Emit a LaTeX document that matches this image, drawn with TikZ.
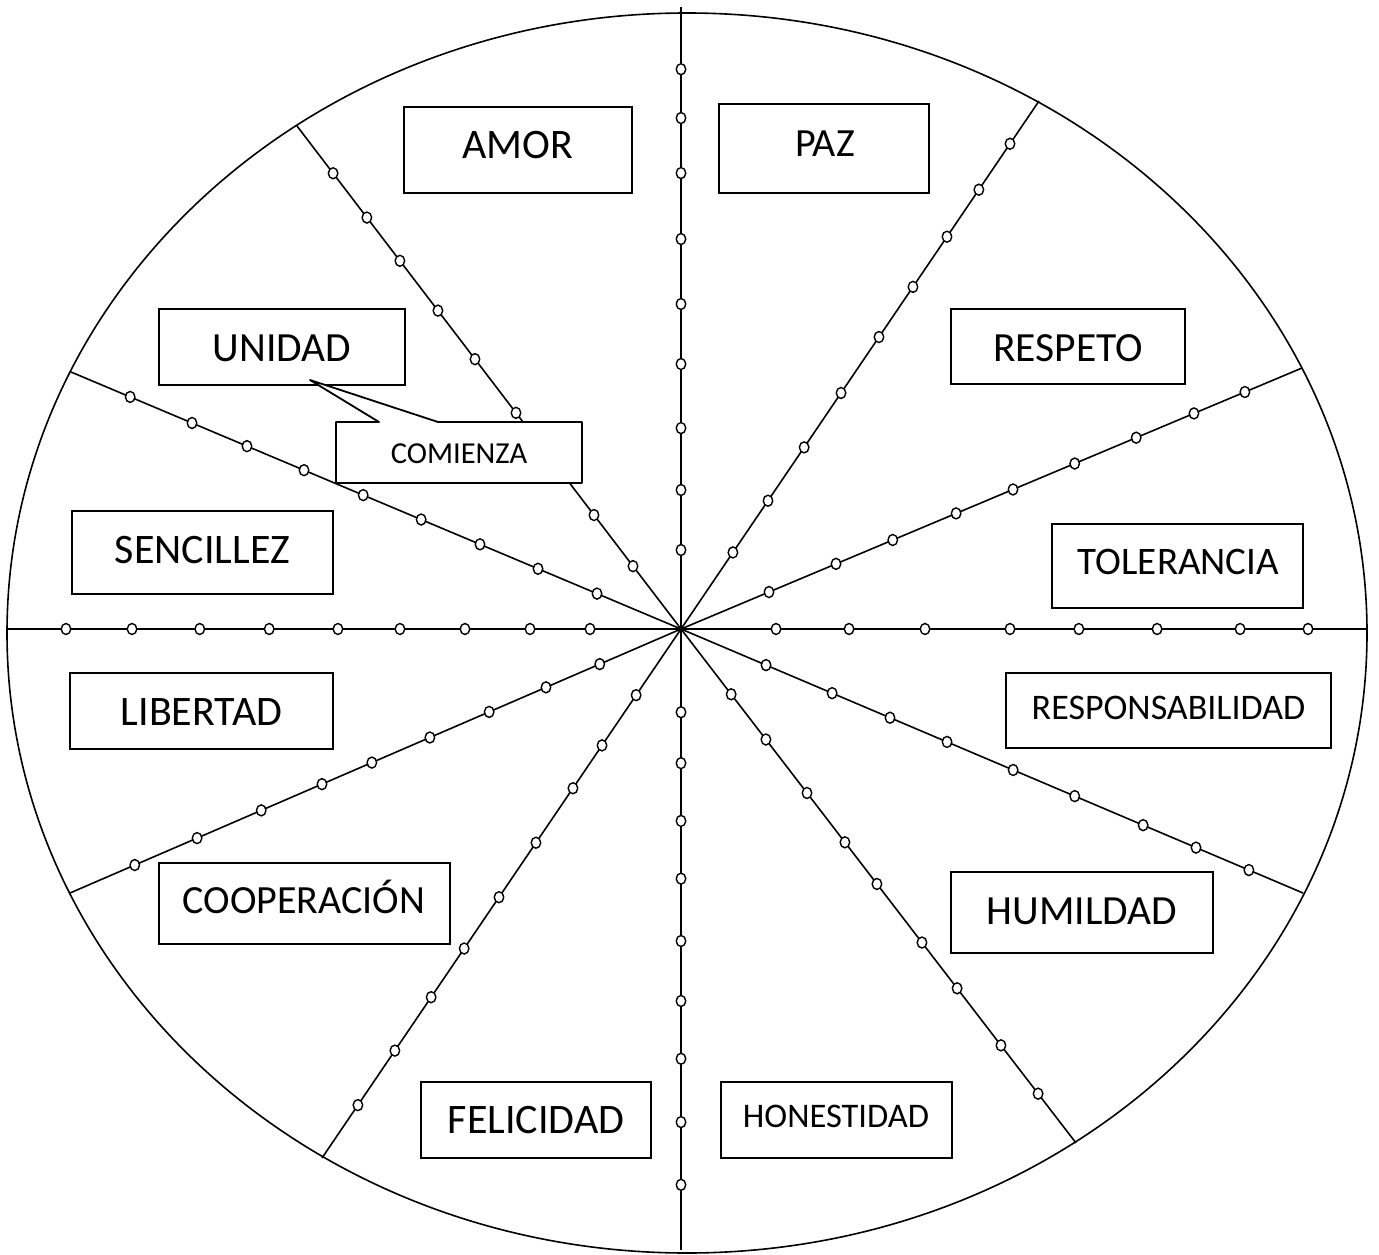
\documentclass[tikz,border=0pt]{standalone}
\usepackage{fontspec}
\setmainfont{Carlito}
\usetikzlibrary{shapes.geometric}
\begin{document}
\begin{tikzpicture}[x=1pt,y=-1pt,
  ray/.style={line width=1.6pt},
  bead/.style={ellipse, draw, fill=white, line width=1.4pt, inner sep=0pt, minimum width=9.5pt, minimum height=11pt},
  lbox/.style={draw, fill=white, line width=1.8pt, rectangle, inner sep=0pt},
  lbl/.style={anchor=base, inner sep=0pt, font=\fontsize{#1}{#1}\selectfont}]
\useasboundingbox (0,0) rectangle (1379,1255);
\fill[white] (0,0) rectangle (1379,1255);
% outer ellipse
\draw[ray] (687,633) ellipse [x radius=680pt, y radius=620pt];
% centre and ray ends
\coordinate (O) at (681,629);
\coordinate (eN) at (681,7);
\coordinate (eS) at (681,1250);
\coordinate (eW) at (7,629);
\coordinate (eE) at (1367,629);
\coordinate (eNW) at (297,126);
\coordinate (eSE) at (1076,1143);
\coordinate (eNE) at (1039,101);
\coordinate (eSW) at (322,1158);
\coordinate (eWNW) at (71,372);
\coordinate (eESE) at (1303,893);
\coordinate (eENE) at (1302,368);
\coordinate (eWSW) at (70,893);
\foreach \r in {N,S,W,E,NW,SE,NE,SW,WNW,ESE,ENE,WSW}
  \draw[ray] (O) -- (e\r);
% beads
\foreach \r/\ts in {
  N/{0.127,0.2235,0.323,0.426,0.5225,0.627,0.733,0.8215,0.900},
  S/{0.134,0.216,0.309,0.402,0.5024,0.599,0.692,0.794,0.895},
  W/{0.135,0.224,0.3205,0.417,0.509,0.611,0.714,0.8145,0.9125},
  E/{0.1385,0.245,0.3557,0.4796,0.580,0.694,0.815,0.914},
  NW/{0.125,0.2266,0.4297,0.5365,0.633,0.732,0.818,0.906},
  SE/{0.127,0.215,0.319,0.415,0.496,0.610,0.699,0.810,0.904},
  NE/{0.145,0.243,0.344,0.447,0.553,0.648,0.743,0.832,0.919},
  SW/{0.125,0.22,0.301,0.404,0.507,0.604,0.696,0.797,0.900},
  WNW/{0.1377,0.2344,0.3295,0.426,0.521,0.618,0.7115,0.8016,0.903},
  ESE/{0.1367,0.243,0.336,0.4277,0.534,0.633,0.743,0.828,0.913},
  ENE/{0.1417,0.2496,0.341,0.443,0.5346,0.634,0.733,0.826,0.908},
  WSW/{0.133,0.221,0.314,0.411,0.506,0.5876,0.687,0.792,0.894}}
  {\foreach \t [count=\i] in \ts
     \path (O) -- (e\r) node[bead, pos=\t] (b\r\i) {};}
% boxes
\node[lbox, minimum width=228pt, minimum height=86pt] (bxAmor) at (518,150) {};
\node[lbox, minimum width=210pt, minimum height=89pt] (bxPaz) at (824,148.5) {};
\node[lbox, minimum width=246pt, minimum height=76pt] (bxUnidad) at (282,347) {};
\node[lbox, minimum width=234pt, minimum height=75pt] (bxRespeto) at (1068,346.5) {};
\node[lbox, minimum width=261pt, minimum height=83pt] (bxSencillez) at (202.5,552.5) {};
\node[lbox, minimum width=251pt, minimum height=84pt] (bxTolerancia) at (1177.5,566) {};
\node[lbox, minimum width=263pt, minimum height=76pt] (bxLibertad) at (201.5,711) {};
\node[lbox, minimum width=325pt, minimum height=75pt] (bxResp) at (1168.5,710.5) {};
\node[lbox, minimum width=291pt, minimum height=81pt] (bxCoop) at (304.5,903.5) {};
\node[lbox, minimum width=262pt, minimum height=81pt] (bxHumildad) at (1082,912.5) {};
\node[lbox, minimum width=230pt, minimum height=76pt] (bxFelicidad) at (536,1120) {};
\node[lbox, minimum width=231pt, minimum height=76pt] (bxHonestidad) at (836.5,1120) {};
% callout
\draw[lbox, line join=round] (336,422) -- (379,422) -- (310,380) -- (438,422) -- (582,422) -- (582,483) -- (336,483) -- cycle;
% labels
\node[lbl=42] (tAmor) at (517.5,158) {AMOR};
\node[lbl=40] (tPaz) at (825,156) {PAZ};
\node[lbl=41.5] (tUnidad) at (282,361) {UNIDAD};
\node[lbl=41.5] (tRespeto) at (1068,361) {RESPETO};
\node[lbl=42] (tSencillez) at (202.5,563) {SENCILLEZ};
\node[lbl=39] (tTolerancia) at (1178.5,574) {TOLERANCIA};
\node[lbl=42] (tLibertad) at (201.5,725) {LIBERTAD};
\node[lbl=36] (tResp) at (1168.5,719) {RESPONSABILIDAD};
\node[lbl=40] (tCoop) at (304,913) {COOPERACIÓN};
\node[lbl=41.5] (tHumildad) at (1082,924) {HUMILDAD};
\node[lbl=42] (tFelicidad) at (536,1133) {FELICIDAD};
\node[lbl=34.5] (tHonestidad) at (836,1127) {HONESTIDAD};
\node[lbl=30.5] (tComienza) at (459,463) {COMIENZA};
\end{tikzpicture}
\end{document}
